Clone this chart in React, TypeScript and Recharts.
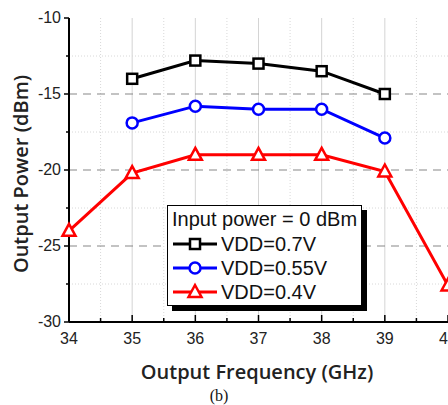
import {
  LineChart, Line, XAxis, YAxis, ReferenceLine,
} from 'recharts'

const FREQ = [34, 35, 36, 37, 38, 39, 40]
const VDD_07 = [null, -14.0, -12.8, -13.0, -13.5, -15.0, null]
const VDD_055 = [null, -16.9, -15.8, -16.0, -16.0, -17.9, null]
const VDD_04 = [-24.0, -20.2, -19.0, -19.0, -19.0, -20.1, -27.6]

const X_TICKS = [34, 34.5, 35, 35.5, 36, 36.5, 37, 37.5, 38, 38.5, 39, 39.5, 40]
const Y_TICKS = [-30, -27.5, -25, -22.5, -20, -17.5, -15, -12.5, -10]
const Y_DASHED = [-15, -20, -25]
const Y_DOTTED = [-12.5, -17.5, -22.5, -27.5]
const X_SOLID = [35, 36, 37, 38, 39]
const X_DOTTED = [34.5, 35.5, 36.5, 37.5, 38.5, 39.5]

const data = FREQ.map((f, i) => ({ f, a: VDD_07[i], b: VDD_055[i], c: VDD_04[i] }))

const SERIES = [
  { key: 'a', name: 'VDD=0.7V', color: '#000000', shape: 'square' },
  { key: 'b', name: 'VDD=0.55V', color: '#0000FF', shape: 'circle' },
  { key: 'c', name: 'VDD=0.4V', color: '#FF0000', shape: 'triangle' },
]

const SANS = 'Arial, "Liberation Sans", sans-serif'

function Marker({ cx, cy, shape, color }: any) {
  if (cx == null || cy == null) return null
  if (shape === 'square')
    return <rect x={cx - 5} y={cy - 5} width={10} height={10} fill="#fff" stroke={color} strokeWidth={2.5} />
  if (shape === 'circle')
    return <circle cx={cx} cy={cy} r={5.5} fill="#fff" stroke={color} strokeWidth={2.5} />
  return (
    <polygon
      points={`${cx},${cy - 7} ${cx - 6.5},${cy + 5} ${cx + 6.5},${cy + 5}`}
      fill="#fff" stroke={color} strokeWidth={2.5} strokeLinejoin="miter"
    />
  )
}

function BottomTick({ x, y, payload }: any) {
  const major = Number.isInteger(payload.value)
  return (
    <g>
      <line x1={x} x2={x} y1={y} y2={y - (major ? 7 : 4)} stroke="#000" strokeWidth={1.5} />
      {major && (
        <text x={x} y={y + 22} textAnchor="middle" fontSize={16} fontFamily={SANS} fill="#222">
          {payload.value}
        </text>
      )}
    </g>
  )
}

function TopTick({ x, y, payload }: any) {
  const major = Number.isInteger(payload.value)
  return <line x1={x} x2={x} y1={y} y2={y + (major ? 7 : 4)} stroke="#000" strokeWidth={1.5} />
}

function LeftTick({ x, y, payload }: any) {
  const major = payload.value % 5 === 0
  return (
    <g>
      <line x1={x} x2={x - (major ? 5 : 3)} y1={y} y2={y} stroke="#000" strokeWidth={1.5} />
      {major && (
        <text x={x - 8} y={y + 5} textAnchor="end" fontSize={16} fontFamily={SANS} fill="#222">
          {payload.value}
        </text>
      )}
    </g>
  )
}

function LegendBox() {
  return (
    <div style={{
      position: 'absolute', left: 167, top: 205,
      width: 195, height: 101, border: '1px solid #000', background: '#fff',
      boxShadow: '5px 5px 0 #000', fontFamily: SANS, color: '#111', boxSizing: 'border-box',
      padding: '1px 0 0 4px', whiteSpace: 'nowrap',
    }}>
      <div style={{ fontSize: 20, lineHeight: '25px' }}>Input power = 0 dBm</div>
      {SERIES.map((s) => (
        <div key={s.key} style={{ display: 'flex', alignItems: 'center', height: 24, fontSize: 20 }}>
          <svg width={46} height={20} style={{ marginRight: 3, flex: 'none' }}>
            <line x1={1} x2={45} y1={10} y2={10} stroke={s.color} strokeWidth={3} />
            <Marker cx={23} cy={10} shape={s.shape} color={s.color} />
          </svg>
          <span>{s.name}</span>
        </div>
      ))}
    </div>
  )
}

export default function App() {
  return (
    <div style={{ position: 'absolute', left: 0, top: 0, width: 448, height: 405, overflow: 'hidden', background: '#fff' }}>
      <LineChart width={450} height={405} data={data} margin={{ top: 18, right: 2, left: 0, bottom: 0 }}>
        <XAxis
          dataKey="f" type="number" domain={[34, 40]} ticks={X_TICKS} interval={0}
          tickSize={0} tickMargin={0} tickLine={false} tick={<BottomTick />}
          axisLine={{ stroke: '#000', strokeWidth: 2 }} height={83}
        />
        <XAxis
          xAxisId="top" orientation="top" dataKey="f" type="number" domain={[34, 40]} ticks={X_TICKS}
          interval={0} tickSize={0} tickMargin={0} tickLine={false} tick={<TopTick />}
          axisLine={{ stroke: '#000', strokeWidth: 2 }} height={0}
        />
        <YAxis
          type="number" domain={[-30, -10]} ticks={Y_TICKS} interval={0} width={69}
          tickSize={0} tickMargin={0} tickLine={false} tick={<LeftTick />}
          axisLine={{ stroke: '#000', strokeWidth: 2 }}
        />
        <YAxis
          yAxisId="right" orientation="right" type="number" domain={[-30, -10]} width={0}
          tick={false} tickLine={false} axisLine={{ stroke: '#000', strokeWidth: 2 }}
        />
        {X_DOTTED.map((v) => (
          <ReferenceLine key={'xd' + v} x={v} stroke="#d8d8d8" strokeDasharray="1 2" />
        ))}
        {X_SOLID.map((v) => (
          <ReferenceLine key={'xs' + v} x={v} stroke="#d4d4d4" />
        ))}
        {Y_DOTTED.map((v) => (
          <ReferenceLine key={'yd' + v} y={v} stroke="#d8d8d8" strokeDasharray="1 2" />
        ))}
        {Y_DASHED.map((v) => (
          <ReferenceLine key={'ys' + v} y={v} stroke="#888" strokeWidth={1.2} strokeDasharray="8 6" />
        ))}
        {SERIES.map((s) => (
          <Line
            key={s.key} dataKey={s.key} name={s.name} stroke={s.color} strokeWidth={3}
            isAnimationActive={false} connectNulls={false}
            dot={(p: any) => <Marker key={p.index} cx={p.cx} cy={p.cy} shape={s.shape} color={s.color} />}
            activeDot={false}
          />
        ))}
        <text
          x={20} y={174} transform="rotate(-90 20 174)" textAnchor="middle" dominantBaseline="central"
          fontSize={20} fontWeight={600} fontFamily='"Open Sans", sans-serif' fill="#222"
        >
          Output Power (dBm)
        </text>
        <text
          x={257} y={371} textAnchor="middle" dominantBaseline="central"
          fontSize={20} fontWeight={600} fontFamily='"Open Sans", sans-serif' fill="#222"
        >
          Output Frequency (GHz)
        </text>
        <text
          x={219} y={395} textAnchor="middle" dominantBaseline="central"
          fontSize={16} fontFamily='"Liberation Serif", serif' fill="#111"
        >
          (b)
        </text>
      </LineChart>
      <LegendBox />
    </div>
  )
}
